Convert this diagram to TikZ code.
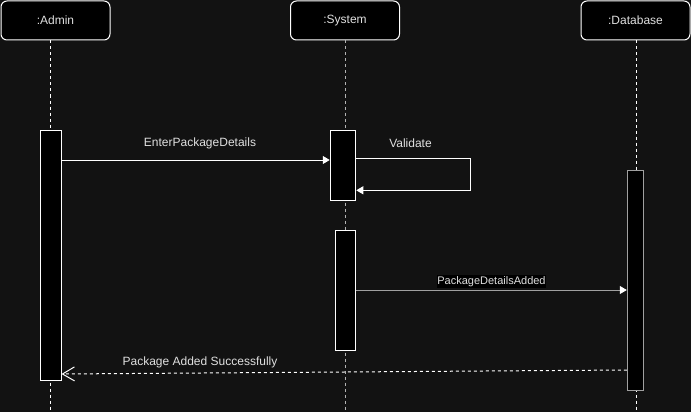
\documentclass[tikz,border=0pt]{standalone}
\usepackage{fontspec}
\setmainfont{Liberation Sans}
\usetikzlibrary{arrows.meta}
\definecolor{bg}{HTML}{121212}
\definecolor{txt}{HTML}{E0E0E0}
\definecolor{dim}{HTML}{A0A0A0}
\begin{document}
\begin{tikzpicture}[x=1pt,y=-1pt,line width=1pt,
  font=\fontsize{12}{14}\selectfont,
  head/.style={draw=white,fill=black,rounded corners=6pt,minimum width=109pt,minimum height=39pt,text=txt,inner sep=0pt},
  act/.style={draw=white,fill=black,inner sep=0pt},
  life/.style={draw=white,dash pattern=on 3pt off 3pt},
  msg/.style={draw=white,-{Triangle[length=7pt,width=8pt,color=white,fill=white]}},
  ret/.style={draw=white,dash pattern=on 3pt off 3pt,-{Straight Barb[length=12pt,width=14pt,line width=1pt]}},
  lbl/.style={text=txt,inner sep=0pt}]
\fill[bg] (0,0) rectangle (691,412);
\useasboundingbox (0,0) rectangle (691,412);
% heads
\node[head] (admin) at (55.5,20.5) {:Admin};
\node[head] (sys) at (345,20.5) {:System};
\node[head] (db) at (635.5,20.5) {:Database};
% lifeline ends
\coordinate (aEnd) at (50,412);
\coordinate (sEnd) at (345,412);
\coordinate (dEnd) at (636,412);
\draw[life] (admin.south -| aEnd) -- (aEnd);
\draw[life,draw=dim!80!white] (sys.south -| sEnd) -- (sEnd);
\draw[life] (db.south -| dEnd) -- (dEnd);
% activations
\node[act,minimum width=21pt,minimum height=250pt] (aAct) at (50.5,255) {};
\node[act,minimum width=25.5pt,minimum height=70pt] (sAct1) at (343,165.3) {};
\node[act,minimum width=20.5pt,minimum height=120pt] (sAct2) at (345.5,290) {};
\node[act,draw=dim,minimum width=16pt,minimum height=220pt] (dAct) at (635.3,280.3) {};
% messages
\coordinate (m1) at (0,160);
\draw[msg] (aAct.east |- m1) -- (sAct1.west |- m1);
\node[lbl] (l1) at (200,143) {EnterPackageDetails};
\coordinate (v1) at (470.7,158.3);
\coordinate (v2) at (470.7,190.3);
\draw[msg] (sAct1.east |- v1) -- (v1) -- (v2) -- (sAct1.east |- v2);
\node[lbl] (l2) at (410.5,143) {Validate};
\coordinate (m3) at (0,290);
\draw[msg,draw=dim] (sAct2.east |- m3) -- (dAct.west |- m3);
\node[lbl,fill=black,inner xsep=0.3pt,inner ysep=1pt,font=\fontsize{11}{13}\selectfont] (l3) at (491.5,281.5) {PackageDetailsAdded};
\coordinate (r1) at (0,370);
\coordinate (r2) at (0,374);
\draw[ret] (dAct.west |- r1) -- (aAct.east |- r2);
\node[lbl] (l4) at (200,362.5) {Package Added Successfully};
\end{tikzpicture}
\end{document}
